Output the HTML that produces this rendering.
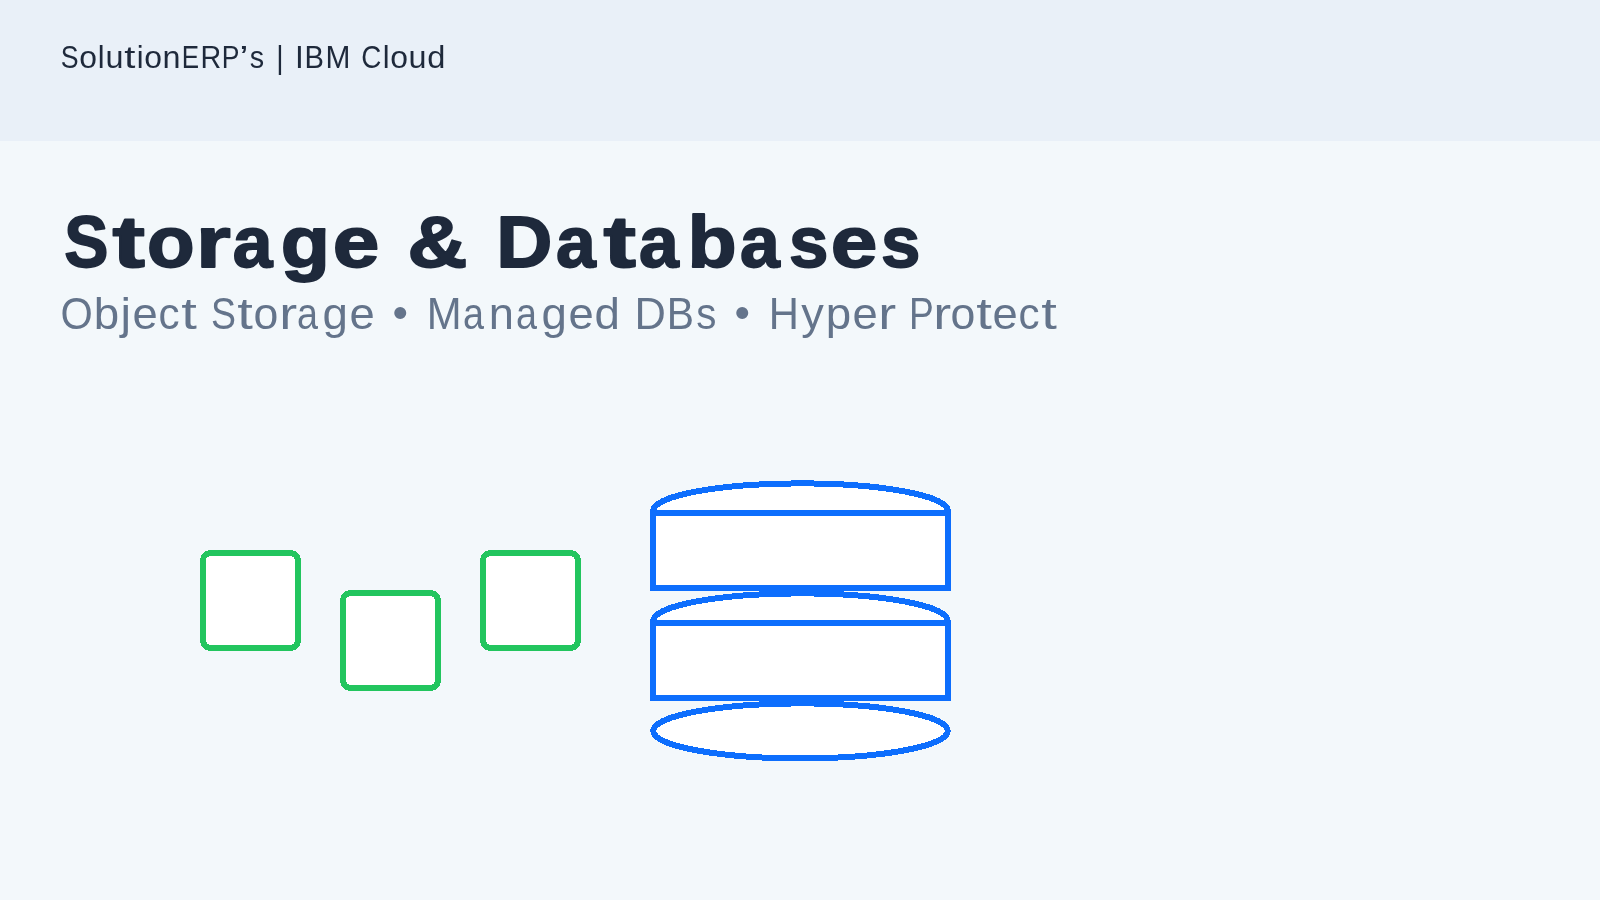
<!DOCTYPE html>
<html><head><meta charset="utf-8"><title>Storage &amp; Databases</title>
<style>
html,body{margin:0;padding:0;width:1600px;height:900px;overflow:hidden;background:#f3f8fb;}
svg{display:block;position:absolute;left:0;top:0;will-change:transform;}
text{font-family:"Liberation Sans",sans-serif;}
</style></head>
<body>
<svg width="1600" height="900" viewBox="0 0 1600 900">
<rect x="0" y="0" width="1600" height="900" fill="#f3f8fb"/>
<rect x="0" y="0" width="1600" height="141" fill="#e9f0f8"/>
<text font-size="30" fill="#1e293b" transform="matrix(1 0 0 1.0569 0 68)"><tspan x="60.76" textLength="17.84" lengthAdjust="spacingAndGlyphs">S</tspan><tspan x="79.32" textLength="17.74" lengthAdjust="spacingAndGlyphs">o</tspan><tspan x="97.76" textLength="6.81" lengthAdjust="spacingAndGlyphs">l</tspan><tspan x="105.45" textLength="17.99" lengthAdjust="spacingAndGlyphs">u</tspan><tspan x="124.20" textLength="11.14" lengthAdjust="spacingAndGlyphs">t</tspan><tspan x="136.78" textLength="6.81" lengthAdjust="spacingAndGlyphs">i</tspan><tspan x="144.32" textLength="17.74" lengthAdjust="spacingAndGlyphs">o</tspan><tspan x="162.58" textLength="17.99" lengthAdjust="spacingAndGlyphs">n</tspan><tspan x="181.81" textLength="17.34" lengthAdjust="spacingAndGlyphs">E</tspan><tspan x="200.59" textLength="20.72" lengthAdjust="spacingAndGlyphs">R</tspan><tspan x="221.77" textLength="17.70" lengthAdjust="spacingAndGlyphs">P</tspan><tspan x="239.31" y="-0.31" textLength="9.28" lengthAdjust="spacingAndGlyphs">’</tspan><tspan y="0" x="249.83" textLength="14.38" lengthAdjust="spacingAndGlyphs">s</tspan> <tspan x="276.36" textLength="7.37" lengthAdjust="spacingAndGlyphs">|</tspan> <tspan x="295.02" textLength="8.81" lengthAdjust="spacingAndGlyphs">I</tspan><tspan x="304.55" textLength="19.44" lengthAdjust="spacingAndGlyphs">B</tspan><tspan x="325.49" textLength="24.92" lengthAdjust="spacingAndGlyphs">M</tspan> <tspan x="361.27" textLength="20.11" lengthAdjust="spacingAndGlyphs">C</tspan><tspan x="382.76" textLength="6.81" lengthAdjust="spacingAndGlyphs">l</tspan><tspan x="390.32" textLength="17.74" lengthAdjust="spacingAndGlyphs">o</tspan><tspan x="408.45" textLength="17.99" lengthAdjust="spacingAndGlyphs">u</tspan><tspan x="427.29" textLength="18.13" lengthAdjust="spacingAndGlyphs">d</tspan></text>
<text font-size="72" fill="#1e293b" font-weight="bold" stroke="#1e293b" stroke-width="1.75" stroke-linejoin="round" vector-effect="non-scaling-stroke" transform="matrix(1 0 0 1.0117 0 267)"><tspan x="64.14" textLength="44.16" lengthAdjust="spacingAndGlyphs">S</tspan><tspan x="112.63" textLength="32.45" lengthAdjust="spacingAndGlyphs">t</tspan><tspan x="146.92" textLength="47.62" lengthAdjust="spacingAndGlyphs">o</tspan><tspan x="196.04" textLength="34.73" lengthAdjust="spacingAndGlyphs">r</tspan><tspan x="232.88" textLength="39.72" lengthAdjust="spacingAndGlyphs">a</tspan><tspan x="280.81" textLength="49.20" lengthAdjust="spacingAndGlyphs">g</tspan><tspan x="332.69" textLength="46.65" lengthAdjust="spacingAndGlyphs">e</tspan> <tspan x="407.55" textLength="59.93" lengthAdjust="spacingAndGlyphs">&amp;</tspan> <tspan x="496.29" textLength="56.10" lengthAdjust="spacingAndGlyphs">D</tspan><tspan x="555.88" textLength="39.72" lengthAdjust="spacingAndGlyphs">a</tspan><tspan x="603.63" textLength="32.45" lengthAdjust="spacingAndGlyphs">t</tspan><tspan x="638.88" textLength="39.72" lengthAdjust="spacingAndGlyphs">a</tspan><tspan x="687.62" textLength="49.10" lengthAdjust="spacingAndGlyphs">b</tspan><tspan x="739.88" textLength="39.72" lengthAdjust="spacingAndGlyphs">a</tspan><tspan x="789.11" textLength="39.36" lengthAdjust="spacingAndGlyphs">s</tspan><tspan x="830.69" textLength="46.65" lengthAdjust="spacingAndGlyphs">e</tspan><tspan x="881.11" textLength="39.36" lengthAdjust="spacingAndGlyphs">s</tspan></text>
<text font-size="42" fill="#64748b" transform="matrix(1 0 0 1.0510 0 329)"><tspan x="60.39" textLength="32.30" lengthAdjust="spacingAndGlyphs">O</tspan><tspan x="93.87" textLength="25.41" lengthAdjust="spacingAndGlyphs">b</tspan><tspan x="120.40" textLength="10.53" lengthAdjust="spacingAndGlyphs">j</tspan><tspan x="132.39" textLength="25.23" lengthAdjust="spacingAndGlyphs">e</tspan><tspan x="158.53" textLength="21.07" lengthAdjust="spacingAndGlyphs">c</tspan><tspan x="181.28" textLength="15.60" lengthAdjust="spacingAndGlyphs">t</tspan> <tspan x="211.07" textLength="24.97" lengthAdjust="spacingAndGlyphs">S</tspan><tspan x="237.28" textLength="15.60" lengthAdjust="spacingAndGlyphs">t</tspan><tspan x="253.44" textLength="24.83" lengthAdjust="spacingAndGlyphs">o</tspan><tspan x="279.24" textLength="17.92" lengthAdjust="spacingAndGlyphs">r</tspan><tspan x="296.92" textLength="21.00" lengthAdjust="spacingAndGlyphs">a</tspan><tspan x="322.40" textLength="25.39" lengthAdjust="spacingAndGlyphs">g</tspan><tspan x="349.39" textLength="25.23" lengthAdjust="spacingAndGlyphs">e</tspan> <tspan x="392.50" y="-1.36" textLength="15.50" lengthAdjust="spacingAndGlyphs">•</tspan> <tspan y="0" x="426.69" textLength="34.88" lengthAdjust="spacingAndGlyphs">M</tspan><tspan x="462.92" textLength="21.00" lengthAdjust="spacingAndGlyphs">a</tspan><tspan x="488.81" textLength="25.18" lengthAdjust="spacingAndGlyphs">n</tspan><tspan x="515.92" textLength="21.00" lengthAdjust="spacingAndGlyphs">a</tspan><tspan x="541.40" textLength="25.39" lengthAdjust="spacingAndGlyphs">g</tspan><tspan x="568.39" textLength="25.23" lengthAdjust="spacingAndGlyphs">e</tspan><tspan x="594.40" textLength="25.39" lengthAdjust="spacingAndGlyphs">d</tspan> <tspan x="634.56" textLength="31.38" lengthAdjust="spacingAndGlyphs">D</tspan><tspan x="666.77" textLength="27.22" lengthAdjust="spacingAndGlyphs">B</tspan><tspan x="696.16" textLength="20.13" lengthAdjust="spacingAndGlyphs">s</tspan> <tspan x="734.55" y="-1.31" textLength="15.50" lengthAdjust="spacingAndGlyphs">•</tspan> <tspan y="0" x="768.69" textLength="30.17" lengthAdjust="spacingAndGlyphs">H</tspan><tspan x="801.14" textLength="22.55" lengthAdjust="spacingAndGlyphs">y</tspan><tspan x="825.87" textLength="25.41" lengthAdjust="spacingAndGlyphs">p</tspan><tspan x="852.39" textLength="25.23" lengthAdjust="spacingAndGlyphs">e</tspan><tspan x="878.24" textLength="17.92" lengthAdjust="spacingAndGlyphs">r</tspan> <tspan x="909.08" textLength="24.78" lengthAdjust="spacingAndGlyphs">P</tspan><tspan x="933.24" textLength="17.92" lengthAdjust="spacingAndGlyphs">r</tspan><tspan x="950.44" textLength="24.83" lengthAdjust="spacingAndGlyphs">o</tspan><tspan x="976.28" textLength="15.60" lengthAdjust="spacingAndGlyphs">t</tspan><tspan x="992.39" textLength="25.23" lengthAdjust="spacingAndGlyphs">e</tspan><tspan x="1018.53" textLength="21.07" lengthAdjust="spacingAndGlyphs">c</tspan><tspan x="1041.28" textLength="15.60" lengthAdjust="spacingAndGlyphs">t</tspan></text>

<g fill="#ffffff" stroke="#22c55e" stroke-width="6" shape-rendering="crispEdges">
  <rect x="203" y="553" width="95" height="95" rx="7.5"/>
  <rect x="343" y="593" width="95" height="95" rx="7.5"/>
  <rect x="483" y="553" width="95" height="95" rx="7.5"/>
</g>
<g fill="#ffffff" stroke="#0d6efd" stroke-width="6" shape-rendering="crispEdges">
  <ellipse cx="800.5" cy="510.9" rx="147.3" ry="27.5"/>
  <rect x="653" y="513" width="295" height="75"/>
  <ellipse cx="800.5" cy="620.9" rx="147.3" ry="27.5"/>
  <rect x="653" y="623" width="295" height="75"/>
  <ellipse cx="800.5" cy="730.9" rx="147.3" ry="27.5"/>
</g>
</svg>
</body></html>
